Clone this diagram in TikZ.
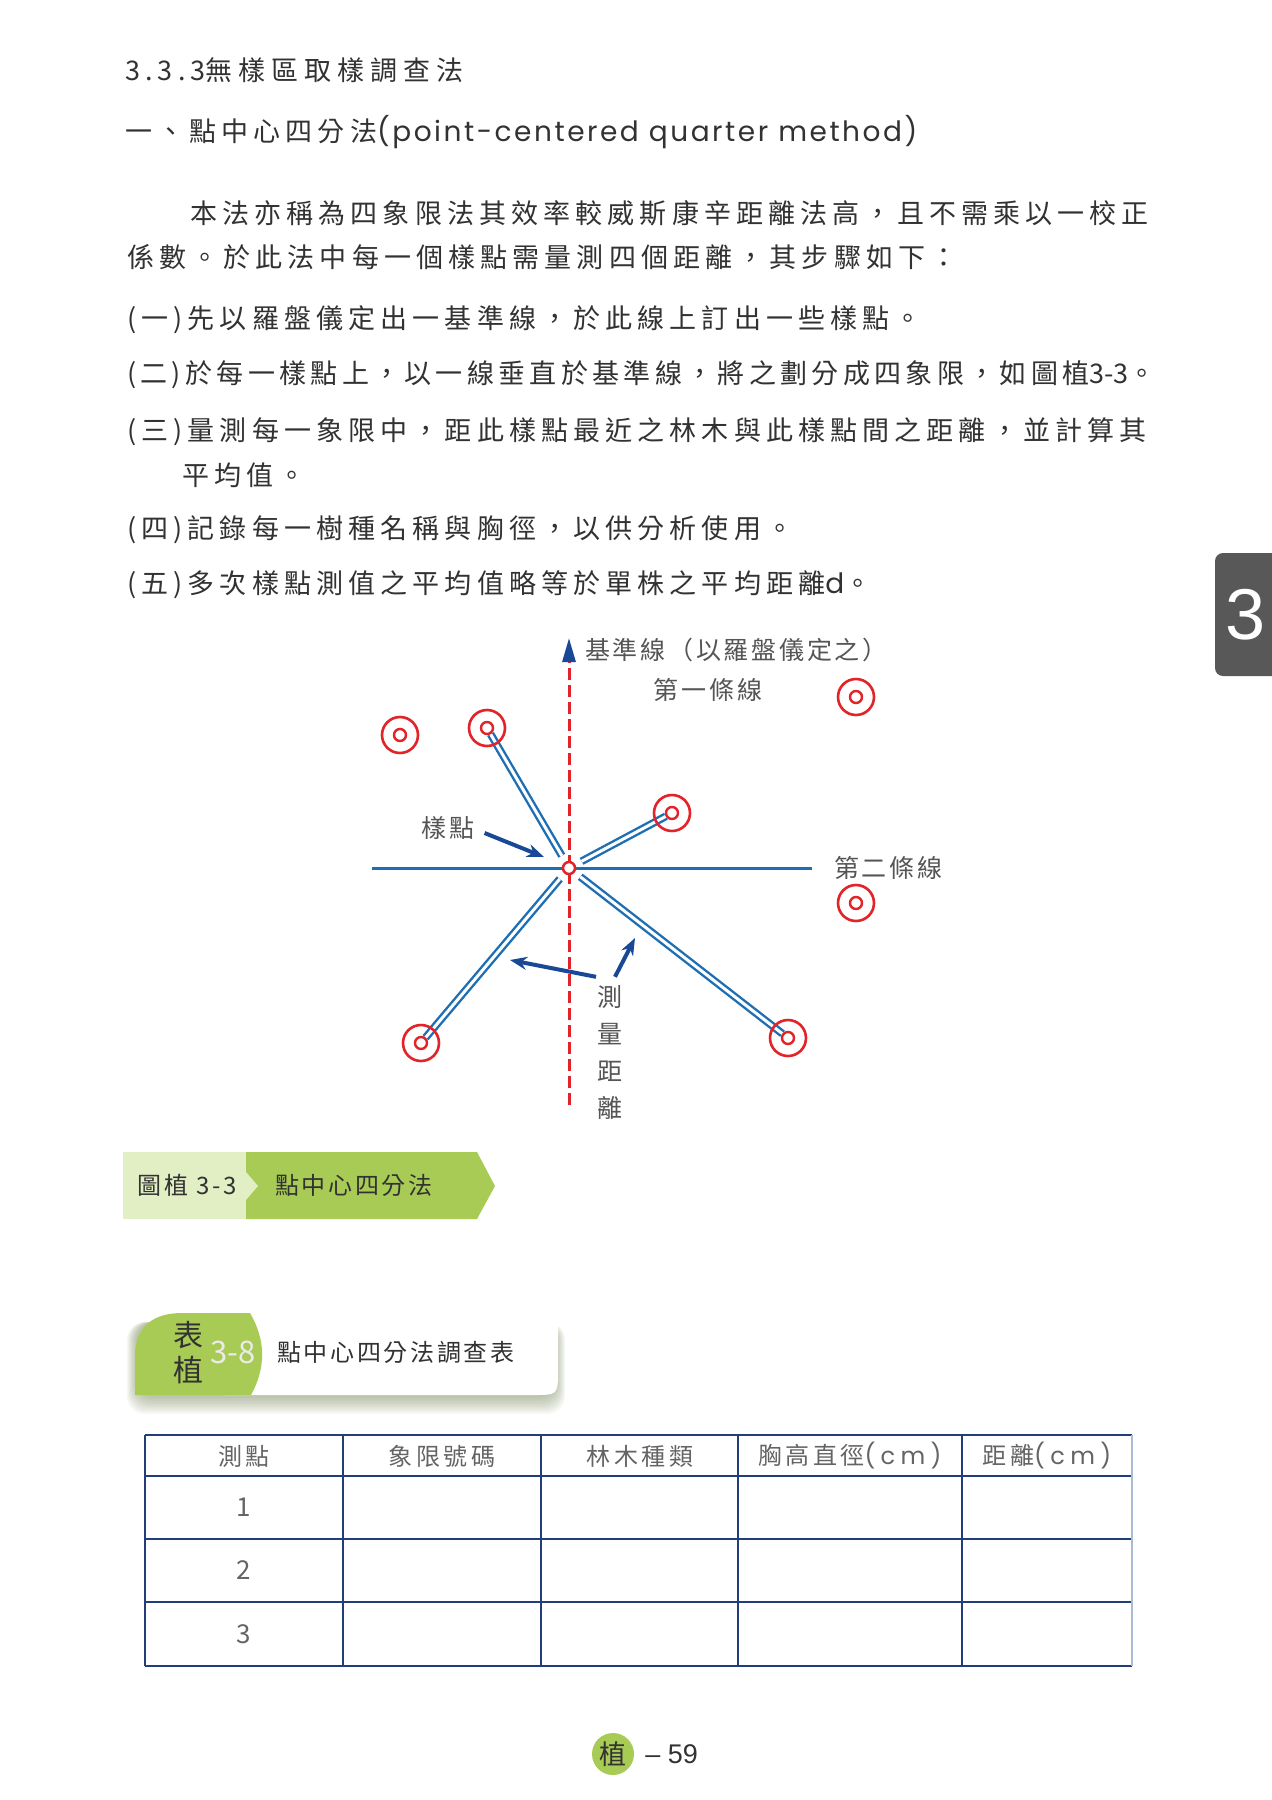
\documentclass[tikz,border=0pt]{standalone}
\usepackage{fontspec}
\setmainfont{Noto Sans CJK TC}
\newfontfamily\cjkfont{Noto Sans CJK TC}
\newfontfamily\bodyfont[LetterSpace=19]{Noto Sans CJK TC}
\newfontfamily\bodytight[LetterSpace=16]{Noto Sans CJK TC}
\newfontfamily\headfont[LetterSpace=22]{Noto Sans CJK TC}
\newfontfamily\lblfont[LetterSpace=11]{Noto Sans CJK TC}
\newfontfamily\hdrfont[LetterSpace=14]{Noto Sans CJK TC}
\newfontfamily\latfont[LetterSpace=9]{Poppins}
\newfontfamily\latwide[LetterSpace=22]{Poppins}
\newfontfamily\numfont{Liberation Sans}
\usetikzlibrary{positioning,arrows.meta}

\definecolor{txtgray}{RGB}{50,50,50}
\definecolor{lblgray}{RGB}{85,85,85}
\definecolor{hdrgray}{RGB}{100,100,100}
\definecolor{treered}{RGB}{226,35,40}
\definecolor{lineblue}{RGB}{30,110,180}
\definecolor{arrowblue}{RGB}{25,72,150}
\definecolor{capdark}{RGB}{168,203,85}
\definecolor{caplight}{RGB}{226,238,196}
\definecolor{tblblue}{RGB}{32,62,120}
\definecolor{tbledge}{RGB}{170,185,212}
\definecolor{tabgray}{RGB}{88,88,88}
\definecolor{shadowc}{RGB}{110,130,80}

\newcommand\bodysize{\fontsize{27pt}{30pt}\selectfont}
\newcommand\lblsize{\fontsize{25pt}{37pt}\selectfont}
\newcommand\hdrsize{\fontsize{24pt}{28pt}\selectfont}
\newcommand\captsize{\fontsize{24pt}{33pt}\selectfont}

\begin{document}
\begin{tikzpicture}[x=1pt, y=-1pt,
        body/.style={anchor=west, inner sep=0pt, text=txtgray, font=\bodyfont\bodysize},
        lbl/.style={inner sep=0pt, text=lblgray, font=\lblfont\lblsize},
        tree/.style={circle, draw=treered, line width=2.6pt, minimum size=36pt, inner sep=0pt,
            path picture={\draw[treered, line width=2.4pt] (path picture bounding box.center) circle (6pt);}},
        dbl/.style={draw=lineblue, double=white, double distance=3pt, line width=2.4pt},
        marrow/.style={draw=arrowblue, line width=4pt, -{Stealth[length=17pt, width=13pt]}},
        tline/.style={draw=tblblue, line width=2.2pt},
        hdr/.style={inner sep=0pt, text=hdrgray, font=\hdrfont\hdrsize},
        capt/.style={inner sep=0pt, text=txtgray, font=\lblfont\captsize}
    ]
    \useasboundingbox (0,0) rectangle (1272,1800);
    \fill[white] (0,0) rectangle (1272,1800);

    % Chapter tab
    \fill[tabgray, rounded corners=8pt] (1215,553) rectangle (1290,676);
    \node[text=white, font=\numfont\fontsize{72pt}{72pt}\selectfont, inner sep=0pt] (chap) at (1246,615) {3};

    % Text block
    \node[body] (sec) at (125,70) {3.3.3{\headfont 無樣區取樣調查法}};
    \node[body] (meth) at (125,132) {一、點中心四分法{\latfont\fontsize{28pt}{30pt}\selectfont (point-centered quarter method)}};
    \node[body] (par1) at (190,213) {本法亦稱為四象限法其效率較威斯康辛距離法高，且不需乘以一校正};
    \node[body] (par2) at (127,257) {係數。於此法中每一個樣點需量測四個距離，其步驟如下：};
    \node[body] (st1) at (127,320) {(一)先以羅盤儀定出一基準線，於此線上訂出一些樣點。};
    \node[body, font=\bodytight\bodysize] (st2) at (127,375) {(二)於每一樣點上，以一線垂直於基準線，將之劃分成四象限，如圖植{\cjkfont 3-3}。};
    \node[body] (st3) at (127,432) {(三)量測每一象限中，距此樣點最近之林木與此樣點間之距離，並計算其};
    \node[body] (st3b) at (182,475) {平均值。};
    \node[body] (st4) at (127,530) {(四)記錄每一樹種名稱與胸徑，以供分析使用。};
    \node[body] (st5) at (127,585) {(五)多次樣點測值之平均值略等於單株之平均距離{\latfont\fontsize{28pt}{30pt}\selectfont d}。};

    % Base line and second line
    \coordinate (btop) at (569,638);
    \coordinate (bbot) at (569,1105);
    \coordinate (hl) at (372,868);
    \coordinate (hr) at (812,868);
    \draw[lineblue, line width=3pt] (hl) -- (hr);
    \draw[treered, line width=3pt, dash pattern=on 12pt off 5pt,
        -{Triangle[color=arrowblue, length=24pt, width=13pt]}] (bbot) -- (btop);

    % Sampling point and trees
    \node[circle, draw=treered, fill=white, line width=2.5pt, minimum size=12pt, inner sep=0pt] (c) at (569,868) {};
    \coordinate (t1c) at (487,728);
    \coordinate (t2c) at (672,813);
    \coordinate (t3c) at (421,1043);
    \coordinate (t4c) at (788,1038);
    \foreach \t in {t1c,t2c,t3c,t4c}
        \draw[dbl, shorten <=7pt, shorten >=7pt] (c) -- (\t);
    \node[tree] (t1) at (t1c) {};
    \node[tree] (t2) at (t2c) {};
    \node[tree] (t3) at (t3c) {};
    \node[tree] (t4) at (t4c) {};
    \node[tree] (t5) at (400,735) {};
    \node[tree] (t6) at (856,697) {};
    \node[tree] (t7) at (856,903) {};

    % Labels
    \node[lbl, anchor=west] (baselbl) at (585,650) {基準線（以羅盤儀定之）};
    \node[lbl] (firstlbl) at (708,690) {第一條線};
    \node[lbl, anchor=west] (secondlbl) at (834,868) {第二條線};
    \node[lbl] (ptlbl) at (448,828) {樣點};
    \node[lbl, align=center] (meas) at (610,1052) {測\\量\\距\\離};

    % Arrows
    \coordinate (ptend) at (544,857);
    \coordinate (m1e) at (510,960);
    \coordinate (m2e) at (635,938);
    \draw[marrow] ([xshift=10pt, yshift=-5pt]ptlbl.east) -- (ptend);
    \draw[marrow] ([xshift=-14pt, yshift=8pt]meas.north) -- (m1e);
    \draw[marrow] ([xshift=5pt, yshift=8pt]meas.north) -- (m2e);

    % Figure caption
    \fill[caplight] (123,1152) rectangle (246,1219);
    \fill[capdark] (246,1152) -- (477,1152) -- (495,1186) -- (477,1219) -- (246,1219) -- cycle;
    \fill[caplight] (246,1172) -- (258,1186) -- (246,1200) -- cycle;
    \node[capt] (figno) at (187,1185) {圖植 3-3};
    \node[capt, anchor=west] (figttl) at (275,1185) {點中心四分法};

    % Table banner
    \foreach \s in {1,...,10}
        \fill[shadowc, opacity=0.055, rounded corners=18pt]
            (137-\s,1322) rectangle (555+\s,1396+1.8*\s);
    \fill[white]
        (225,1313) -- (553,1313) .. controls (558,1313) .. (558,1318) -- (558,1370)
        .. controls (558,1395) .. (533,1395) -- (225,1395) -- cycle;
    \fill[capdark]
        (135,1395) -- (135,1356) .. controls (135,1325) and (155,1313) .. (182,1313) -- (250,1313)
        .. controls (266,1340) and (266,1368) .. (251,1395) -- cycle;
    \node[capt, align=center, font=\cjkfont\fontsize{30pt}{35pt}\selectfont] (tabkey) at (188,1353) {表\\植};
    \node[inner sep=0pt, text=white!92!black, font=\cjkfont\fontsize{31pt}{34pt}\selectfont] (tabno) at (233,1352) {3-8};
    \node[capt, anchor=west] (tabttl) at (277,1352) {點中心四分法調查表};

    % Table
    \foreach \y in {1435,1476,1539,1602,1666}
        \draw[tline] (145,\y) -- (1132,\y);
    \foreach \x in {145,343,541,738,962}
        \draw[tline] (\x,1435) -- (\x,1666);
    \draw[tbledge, line width=1.6pt] (1132,1435) -- (1132,1666);
    \node[hdr] (h1) at (244,1456) {測點};
    \node[hdr] (h2) at (442,1456) {象限號碼};
    \node[hdr] (h3) at (640,1456) {林木種類};
    \node[hdr] (h4) at (850,1456) {胸高直徑{\latwide (cm)}};
    \node[hdr] (h5) at (1047,1456) {距離{\latwide (cm)}};
    \foreach \n/\y in {1/1507,2/1570,3/1634}
        \node[hdr, font=\cjkfont\fontsize{26pt}{30pt}\selectfont] (r\n) at (244,\y) {\n};

    % Page number
    \node[circle, fill=capdark, minimum size=42pt, inner sep=0pt, text=txtgray,
        font=\cjkfont\fontsize{27pt}{30pt}\selectfont] (pg) at (613,1754) {植};
    \node[right=11pt of pg, inner sep=0pt, text=txtgray, font=\numfont\fontsize{27pt}{30pt}\selectfont] (pgno) {– 59};
\end{tikzpicture}
\end{document}
